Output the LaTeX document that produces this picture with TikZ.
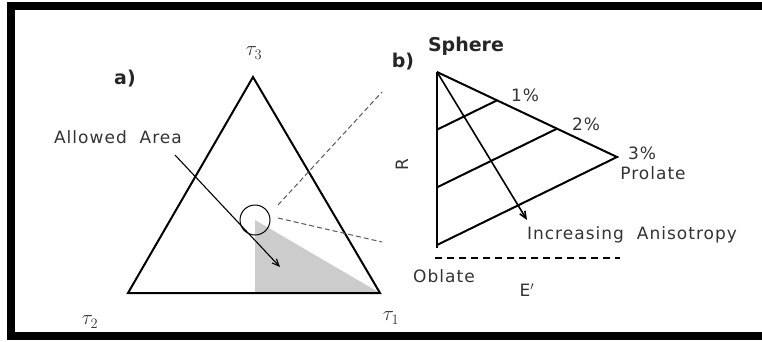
\documentclass[tikz,border=0pt]{standalone}
\usepackage{fontspec}
\setmainfont{DejaVu Sans}
\usetikzlibrary{arrows.meta,positioning,calc}

\begin{document}
\begin{tikzpicture}[x=1pt,y=-1pt,
  edge/.style={line width=2pt, line join=miter},
  arr/.style={-{Straight Barb[length=7pt,width=6pt]}, line width=1.1pt},
  zoomline/.style={dashed, dash pattern=on 5pt off 3pt, line width=1pt, black!65},
  lbl/.style={font=\fontsize{17}{17}\selectfont\addfontfeature{LetterSpace=6}, text=black!80, inner sep=0pt},
  tlbl/.style={font=\fontsize{21}{21}\selectfont, text=black!80, inner sep=0pt},
  head/.style={font=\fontsize{19}{19}\selectfont\bfseries, text=black!85, inner sep=0pt}
]
\useasboundingbox (0,0) rectangle (762,341);
\draw[line width=8pt] (775,6) -- (11,6) -- (11,335.5) -- (775,335.5);

% a) ternary diagram
\coordinate (t3) at (253,77);
\coordinate (t2) at (128,293);
\coordinate (t1) at (380,293);
\coordinate (foot) at (255,293);
\fill[black!20] (255,220) -- (foot) -- (t1) -- cycle;
\node[circle, draw, line width=1pt, minimum size=30pt, inner sep=0pt] (spot) at (255,220) {};
\draw[edge] (t2) -- (t3) -- (t1) -- cycle;

\node[tlbl] (lt3) at (254,53) {$\tau_3$};
\node[tlbl] (lt2) at (90,322) {$\tau_2$};
\node[tlbl] (lt1) at (391,318) {$\tau_1$};
\node[head] (la) at (125,79) {a)};
\node[lbl] (allowed) at (118,137) {Allowed\ \ Area};

\coordinate (arrstart) at (175,155);
\coordinate (arrend) at (280,267);
\draw[arr] (arrstart) -- (arrend);

\coordinate (za) at (278,205);
\coordinate (zb) at (382,92);
\coordinate (zc) at (278,218);
\coordinate (zd) at (382,242);
\draw[zoomline] (za) -- (zb);
\draw[zoomline] (zc) -- (zd);

% b) anisotropy triangle
\coordinate (sph) at (437,72);
\coordinate (obl) at (437,245);
\coordinate (pro) at (617,157);
\draw[edge] (sph) -- (pro) -- (obl);
\draw[edge] (sph) -- ($(obl)+(0,3)$);
\foreach \f in {1/3,2/3}
  \draw[edge] ($(sph)!\f!(obl)$) -- ($(sph)!\f!(pro)$);
\coordinate (aniso) at (527,220);
\draw[arr, line width=1.6pt] (sph) -- (aniso);
\coordinate (ea) at (435,258);
\coordinate (eb) at (620,258);
\draw[dashed, dash pattern=on 7pt off 5pt, line width=1.2pt] (ea) -- (eb);

\node[head] (lsph) at (466,46) {Sphere};
\node[head] (lb) at (403,62) {b)};
\node[lbl] (p1) at (525,95) {1\%};
\node[lbl] (p2) at (586,124) {2\%};
\node[lbl] (p3) at (642,153) {3\%};
\node[lbl] (lpro) at (653,173) {Prolate};
\node[lbl] (linc) at (632,235) {Increasing\ \ Anisotropy};
\node[lbl] (lobl) at (444,276) {Oblate};
\node[lbl] (le) at (527,290) {E$'$};
\node[lbl, rotate=90] (lr) at (402,165) {R};
\end{tikzpicture}
\end{document}
